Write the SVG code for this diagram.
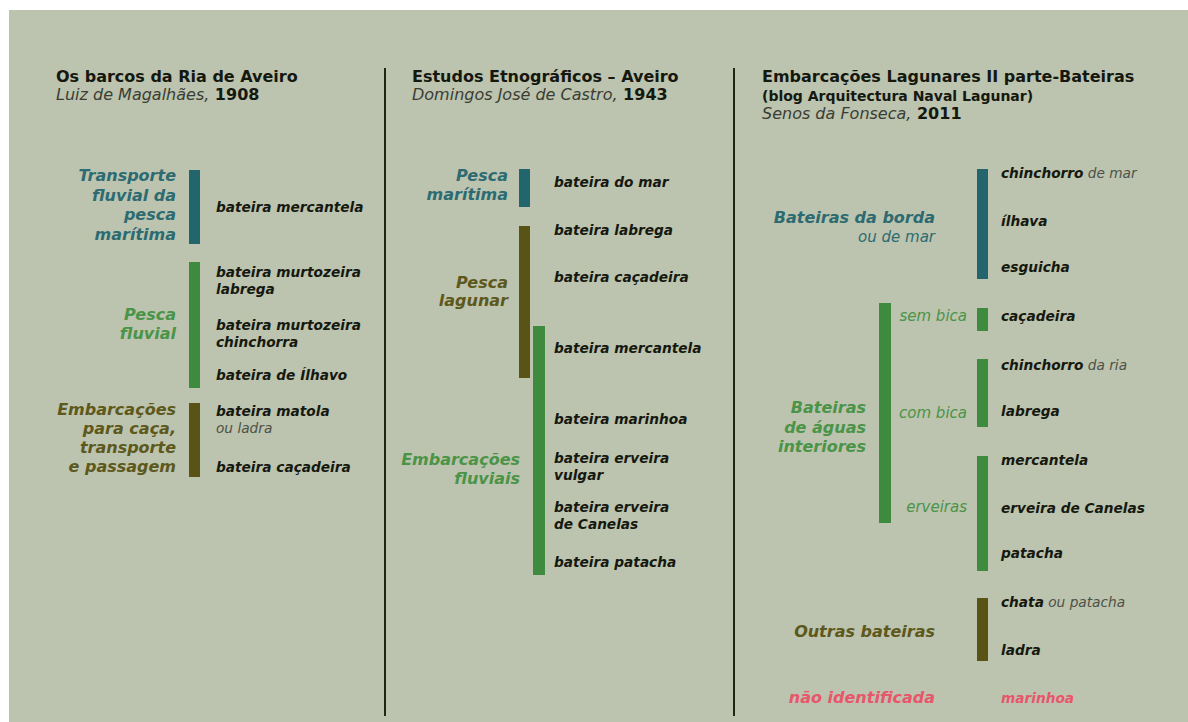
<svg xmlns="http://www.w3.org/2000/svg" width="1188" height="722" viewBox="0 0 1188 722">
<style>
text{font-family:"DejaVu Sans","Liberation Sans",sans-serif}
.t{font-size:16px;font-weight:bold;fill:#15180f}
.s{font-size:16px;font-style:italic;fill:#3a3d34}
.sb{font-style:normal;font-weight:bold;fill:#15180f}
.b{font-size:14px;font-weight:bold;fill:#15180f}
.i{font-size:13.7px;font-weight:bold;font-style:italic;fill:#15180f}
.n{font-size:13.7px;font-weight:normal;font-style:italic;fill:#4d5246}
.c{font-size:16px;font-weight:bold;font-style:italic;text-anchor:end}
.cn{font-size:15px;font-style:italic;text-anchor:end}
.teal{fill:#2d6b72}.green{fill:#4a9448}.olive{fill:#5d581c}.red{fill:#e8566c}
.bt{fill:#22656c}.bg{fill:#3e8b3f}.bo{fill:#5a5316}
.div{stroke:#1e2616;stroke-width:2}
</style>
<rect x="9" y="10" width="1179" height="712" fill="#bcc3ae"/>
<g id="dividers">
<line class="div" x1="385" y1="68" x2="385" y2="716"/>
<line class="div" x1="734" y1="68" x2="734" y2="716"/>
</g>
<g id="col1-header">
<text class="t" x="56" y="82">Os barcos da Ria de Aveiro</text>
<text class="s" x="56" y="100">Luiz de Magalhães,<tspan class="sb"> 1908</tspan></text>
</g>
<g id="col2-header">
<text class="t" x="412" y="82">Estudos Etnográficos – Aveiro</text>
<text class="s" x="412" y="100">Domingos José de Castro,<tspan class="sb"> 1943</tspan></text>
</g>
<g id="col3-header">
<text class="t" x="762" y="82">Embarcações Lagunares II parte-Bateiras</text>
<text class="b" x="762" y="101">(blog Arquitectura Naval Lagunar)</text>
<text class="s" x="762" y="119">Senos da Fonseca,<tspan class="sb"> 2011</tspan></text>
</g>
<g id="connectors">
<rect class="bt" x="189" y="170" width="11" height="74"/>
<rect class="bg" x="189" y="262" width="11" height="126"/>
<rect class="bo" x="189" y="403" width="11" height="74"/>
<rect class="bt" x="519" y="169" width="11" height="38"/>
<rect class="bo" x="519" y="226" width="11" height="152"/>
<rect class="bg" x="533" y="326" width="12" height="249"/>
<rect class="bt" x="977" y="169" width="11" height="110"/>
<rect class="bg" x="879" y="303" width="12" height="220"/>
<rect class="bg" x="977" y="308" width="11" height="23"/>
<rect class="bg" x="977" y="359" width="11" height="68"/>
<rect class="bg" x="977" y="456" width="11" height="115"/>
<rect class="bo" x="977" y="598" width="11" height="63"/>
</g>
<g id="c1-transporte"><text class="c teal" x="176" y="181">Transporte<tspan x="176" y="200.5">fluvial da</tspan><tspan x="176" y="220">pesca</tspan><tspan x="176" y="239.5">marítima</tspan></text></g>
<g id="c1-pesca"><text class="c green" x="176" y="320">Pesca<tspan x="176" y="339">fluvial</tspan></text></g>
<g id="c1-embarcacoes"><text class="c olive" x="176" y="414.5">Embarcações<tspan x="176" y="433.5">para caça,</tspan><tspan x="176" y="452.5">transporte</tspan><tspan x="176" y="471.5">e passagem</tspan></text></g>
<g id="c1-i1"><text class="i" x="216" y="212">bateira mercantela</text></g>
<g id="c1-i2"><text class="i" x="216" y="277">bateira murtozeira<tspan x="216" y="294">labrega</tspan></text></g>
<g id="c1-i3"><text class="i" x="216" y="330">bateira murtozeira<tspan x="216" y="347">chinchorra</tspan></text></g>
<g id="c1-i4"><text class="i" x="216" y="380">bateira de Ílhavo</text></g>
<g id="c1-i5"><text class="i" x="216" y="416">bateira matola</text><text class="n" x="216" y="433">ou ladra</text></g>
<g id="c1-i6"><text class="i" x="216" y="472">bateira caçadeira</text></g>
<g id="c2-maritima"><text class="c teal" x="508" y="181">Pesca<tspan x="508" y="200">marítima</tspan></text></g>
<g id="c2-lagunar"><text class="c olive" x="508" y="288">Pesca<tspan x="508" y="306">lagunar</tspan></text></g>
<g id="c2-fluviais"><text class="c green" x="520" y="465">Embarcações<tspan x="520" y="484">fluviais</tspan></text></g>
<g id="c2-i1"><text class="i" x="554" y="187">bateira do mar</text></g>
<g id="c2-i2"><text class="i" x="554" y="235">bateira labrega</text></g>
<g id="c2-i3"><text class="i" x="554" y="282">bateira caçadeira</text></g>
<g id="c2-i4"><text class="i" x="554" y="353">bateira mercantela</text></g>
<g id="c2-i5"><text class="i" x="554" y="424">bateira marinhoa</text></g>
<g id="c2-i6"><text class="i" x="554" y="463">bateira erveira<tspan x="554" y="480">vulgar</tspan></text></g>
<g id="c2-i7"><text class="i" x="554" y="512">bateira erveira<tspan x="554" y="529">de Canelas</tspan></text></g>
<g id="c2-i8"><text class="i" x="554" y="567">bateira patacha</text></g>
<g id="c3-borda"><text class="c teal" x="935" y="223">Bateiras da borda</text><text class="cn" x="935" y="242" fill="#2d6b72" font-size="16">ou de mar</text></g>
<g id="c3-interiores"><text class="c green" x="866" y="413">Bateiras<tspan x="866" y="432.5">de águas</tspan><tspan x="866" y="452">interiores</tspan></text></g>
<g id="c3-sembica"><text class="cn green" x="967" y="321">sem bica</text></g>
<g id="c3-combica"><text class="cn green" x="967" y="418">com bica</text></g>
<g id="c3-erveiras"><text class="cn green" x="967" y="512">erveiras</text></g>
<g id="c3-outras"><text class="c olive" x="935" y="637">Outras bateiras</text></g>
<g id="c3-naoid"><text class="c red" x="935" y="703">não identificada</text></g>
<g id="c3-i1"><text class="i" x="1001" y="178">chinchorro<tspan class="n"> de mar</tspan></text></g>
<g id="c3-i2"><text class="i" x="1001" y="226">ílhava</text></g>
<g id="c3-i3"><text class="i" x="1001" y="272">esguicha</text></g>
<g id="c3-i4"><text class="i" x="1001" y="321">caçadeira</text></g>
<g id="c3-i5"><text class="i" x="1001" y="370">chinchorro<tspan class="n"> da ria</tspan></text></g>
<g id="c3-i6"><text class="i" x="1001" y="416">labrega</text></g>
<g id="c3-i7"><text class="i" x="1001" y="465">mercantela</text></g>
<g id="c3-i8"><text class="i" x="1001" y="513">erveira de Canelas</text></g>
<g id="c3-i9"><text class="i" x="1001" y="558">patacha</text></g>
<g id="c3-i10"><text class="i" x="1001" y="607">chata<tspan class="n"> ou patacha</tspan></text></g>
<g id="c3-i11"><text class="i" x="1001" y="655">ladra</text></g>
<g id="c3-i12"><text class="i red" x="1001" y="703">marinhoa</text></g>
</svg>
